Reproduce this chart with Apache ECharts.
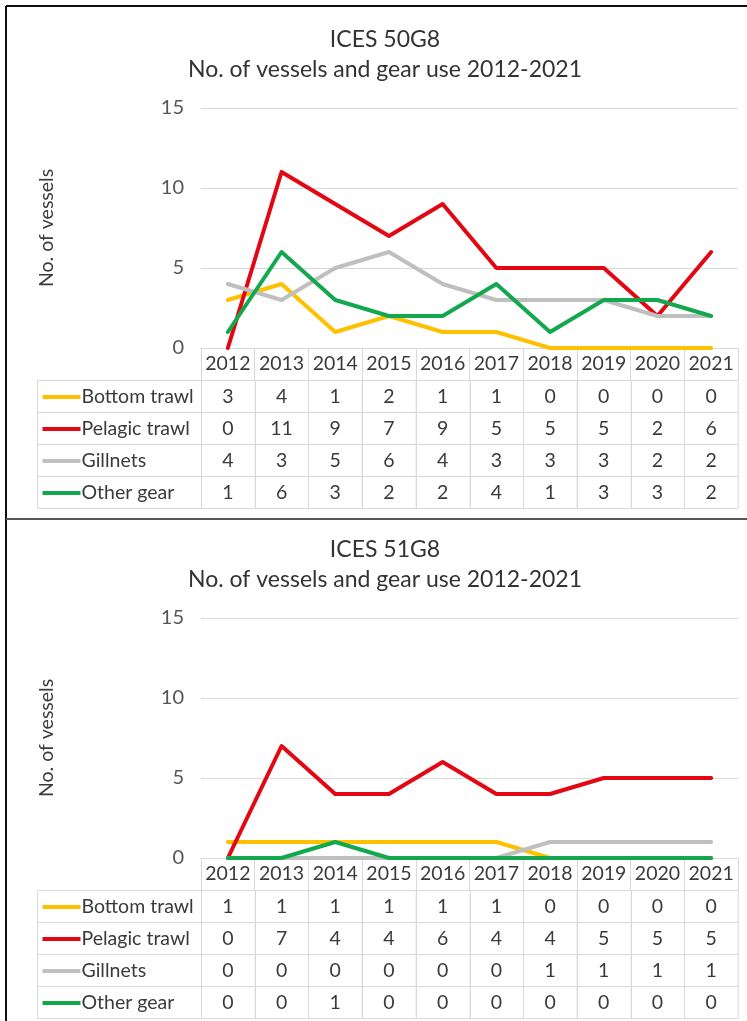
<!DOCTYPE html>
<html>
<head>
<meta charset="utf-8">
<script src="https://cdn.jsdelivr.net/npm/echarts@6/dist/echarts.min.js"></script>
<style>
  html, body { margin: 0; padding: 0; background: #fff; }
  #chart { width: 747px; height: 1021px; }
</style>
</head>
<body>
<div id="chart"></div>
<script>
// Years on the category axis
const years = ['2012', '2013', '2014', '2015', '2016', '2017', '2018', '2019', '2020', '2021'];
// Gear types (table rows / line series)
const gears = ['Bottom trawl', 'Pelagic trawl', 'Gillnets', 'Other gear'];
const gearColors = ['#FFC000', '#E30613', '#BFBFBF', '#14A84E'];
// Y-axis tick range
const yTicks = { min: 0, max: 15, interval: 5 };

// ICES 50G8
const bottom50 = [3, 4, 1, 2, 1, 1, 0, 0, 0, 0];
const pelagic50 = [0, 11, 9, 7, 9, 5, 5, 5, 2, 6];
const gillnets50 = [4, 3, 5, 6, 4, 3, 3, 3, 2, 2];
const other50 = [1, 6, 3, 2, 2, 4, 1, 3, 3, 2];

// ICES 51G8
const bottom51 = [1, 1, 1, 1, 1, 1, 0, 0, 0, 0];
const pelagic51 = [0, 7, 4, 4, 6, 4, 4, 5, 5, 5];
const gillnets51 = [0, 0, 0, 0, 0, 0, 1, 1, 1, 1];
const other51 = [0, 0, 1, 0, 0, 0, 0, 0, 0, 0];

const panels = [
  { title: 'ICES 50G8', series: [bottom50, pelagic50, gillnets50, other50] },
  { title: 'ICES 51G8', series: [bottom51, pelagic51, gillnets51, other51] }
];

const FONT = 'Lato, "Open Sans", sans-serif';
const TEXT = '#3A3A3A';
const GRID_LINE = '#D9D9D9';
const PANEL_H = 510;
const CELL_FONT = 19.5;

// One value cell of the data table
function valueCell(params, api) {
  const c = api.coord([api.value(0), api.value(1)]);
  const s = api.size([1, 1]);
  const x0 = Math.round(c[0] - s[0] / 2) + 0.5;
  const y0 = Math.round(c[1] - s[1] / 2) + 0.5;
  return {
    type: 'group',
    children: [
      { type: 'rect', shape: { x: x0, y: y0, width: s[0], height: s[1] },
        style: { fill: '#fff', stroke: GRID_LINE, lineWidth: 1 } },
      { type: 'text', x: c[0], y: c[1] + 1,
        style: { text: String(api.value(2)), align: 'center', verticalAlign: 'middle',
                 fontSize: CELL_FONT, fontFamily: FONT, fill: TEXT } }
    ]
  };
}

// Row header cell: legend key line plus gear name
function labelCell(params, api) {
  const row = api.value(1);
  const c = api.coord([api.value(0), row]);
  const s = api.size([1, 1]);
  const x0 = Math.round(c[0] - s[0] / 2) + 0.5;
  const y0 = Math.round(c[1] - s[1] / 2) + 0.5;
  return {
    type: 'group',
    children: [
      { type: 'rect', shape: { x: x0, y: y0, width: s[0], height: s[1] },
        style: { fill: '#fff', stroke: GRID_LINE, lineWidth: 1 } },
      { type: 'line', shape: { x1: x0 + 5, y1: c[1] + 1, x2: x0 + 43, y2: c[1] + 1 },
        style: { stroke: gearColors[row], lineWidth: 4 } },
      { type: 'text', x: x0 + 44, y: c[1] + 1,
        style: { text: gears[row], align: 'left', verticalAlign: 'middle',
                 fontSize: CELL_FONT, fontFamily: FONT, fill: TEXT } }
    ]
  };
}

const option = {
  animation: false,
  backgroundColor: '#fff',
  title: [], grid: [], xAxis: [], yAxis: [], series: [],
  graphic: [
    // outer frame and panel divider
    { type: 'line', shape: { x1: 6, y1: 6, x2: 6, y2: 1021 }, style: { stroke: '#111', lineWidth: 2 } },
    { type: 'line', shape: { x1: 6, y1: 6, x2: 747, y2: 6 }, style: { stroke: '#111', lineWidth: 2 } },
    { type: 'line', shape: { x1: 6, y1: 519, x2: 747, y2: 519 }, style: { stroke: '#555', lineWidth: 2 } }
  ]
};

panels.forEach((p, i) => {
  const off = i * PANEL_H;
  const g = i * 3;

  option.title.push({
    text: p.title + '\nNo. of vessels and gear use 2012-2021',
    left: 380, top: 20 + off, textAlign: 'center',
    textStyle: { fontFamily: FONT, fontSize: 23, fontWeight: 'normal', color: '#333', lineHeight: 30 }
  });

  // plot area
  option.grid.push({ left: 201, right: 9, top: 108 + off, height: 240 });
  // table values
  option.grid.push({ left: 201, right: 9, top: 380 + off, height: 128 });
  // table row headers
  option.grid.push({ left: 37, width: 164, top: 380 + off, height: 128 });

  option.xAxis.push({
    type: 'category', gridIndex: g, data: years, boundaryGap: true,
    axisLine: { show: true, lineStyle: { color: GRID_LINE, width: 1 } },
    axisTick: { show: true, length: 32, inside: false, interval: 0, lineStyle: { color: GRID_LINE } },
    axisLabel: { interval: 0, fontFamily: FONT, fontSize: CELL_FONT, color: TEXT, margin: 6 }
  });
  option.yAxis.push({
    type: 'value', gridIndex: g, min: yTicks.min, max: yTicks.max, interval: yTicks.interval,
    name: 'No. of vessels', nameLocation: 'middle', nameGap: 144, nameRotate: 90,
    nameTextStyle: { fontFamily: FONT, fontSize: 19.5, color: TEXT },
    axisLine: { show: false }, axisTick: { show: false },
    axisLabel: { fontFamily: FONT, fontSize: 20, color: '#555', margin: 17 },
    splitLine: { lineStyle: { color: GRID_LINE, width: 1 } }
  });

  option.xAxis.push({ type: 'category', gridIndex: g + 1, data: years, show: false });
  option.yAxis.push({ type: 'category', gridIndex: g + 1, data: gears, inverse: true, show: false });
  option.xAxis.push({ type: 'category', gridIndex: g + 2, data: [''], show: false });
  option.yAxis.push({ type: 'category', gridIndex: g + 2, data: gears, inverse: true, show: false });

  p.series.forEach((vals, k) => {
    option.series.push({
      type: 'line', name: gears[k], xAxisIndex: g, yAxisIndex: g,
      data: vals, symbol: 'none', clip: false,
      lineStyle: { color: gearColors[k], width: 4, cap: 'round', join: 'round' },
      itemStyle: { color: gearColors[k] }, z: 3 + k
    });
  });

  const cells = [];
  p.series.forEach((vals, k) => vals.forEach((v, j) => cells.push([j, k, v])));
  option.series.push({
    type: 'custom', xAxisIndex: g + 1, yAxisIndex: g + 1,
    data: cells, renderItem: valueCell, silent: true
  });
  option.series.push({
    type: 'custom', xAxisIndex: g + 2, yAxisIndex: g + 2,
    data: gears.map((n, k) => [0, k]), renderItem: labelCell, silent: true
  });
});

const chart = echarts.init(document.getElementById('chart'), null, { renderer: 'canvas' });
chart.setOption(option);
</script>
</body>
</html>
